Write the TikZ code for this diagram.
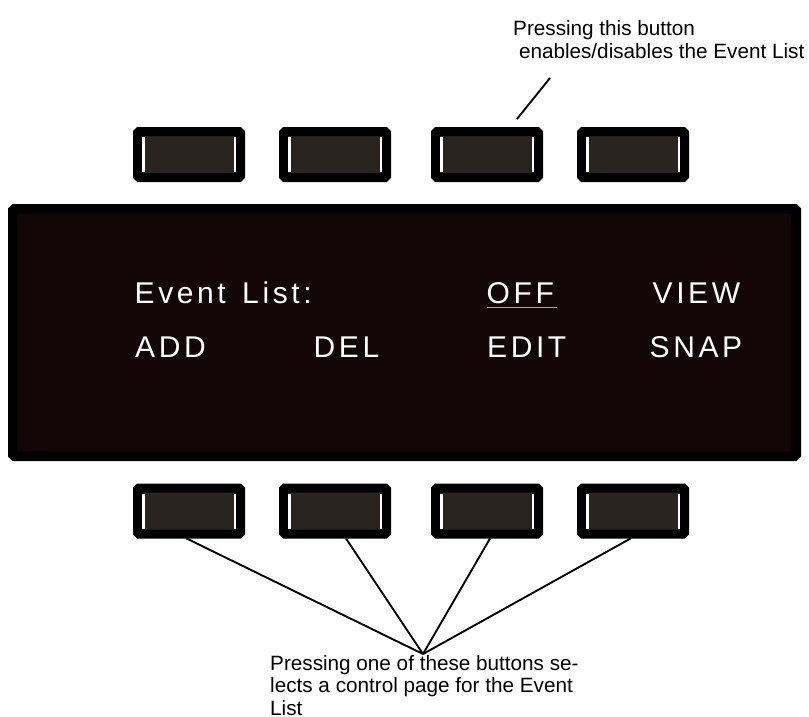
\documentclass[tikz,border=0pt]{standalone}
\usepackage{fontspec}
\setmainfont{Liberation Sans}
\newfontfamily\lcdfont[LetterSpace=12]{Liberation Sans}
\usetikzlibrary{calc}
\definecolor{lcdbg}{RGB}{19,6,6}
\definecolor{btnbg}{RGB}{42,36,32}
\definecolor{ulgray}{RGB}{168,168,168}
\begin{document}
\begin{tikzpicture}[x=1pt,y=-1pt,
  btn/.style={draw=black, fill=btnbg, line width=9pt, rounded corners=1.5pt,
    minimum width=103pt, minimum height=46pt, inner sep=0pt},
  bar/.style={draw=white, line width=2.5pt},
  lcd/.style={draw=black, fill=lcdbg, line width=9.5pt, rounded corners=1.5pt,
    minimum width=783.5pt, minimum height=247.5pt, inner sep=0pt},
  lcdtxt/.style={text=white, font=\lcdfont\fontsize{30}{34}\selectfont,
    inner sep=0pt, anchor=base west},
  note/.style={font=\fontsize{20.7}{22.5}\selectfont, align=left,
    inner sep=0pt, anchor=north west},
  leader/.style={draw=black, line width=1.9pt}]
\useasboundingbox (0,0) rectangle (809,717);

% display
\node[lcd] (lcd) at (404.5,332.5) {};

% buttons
\foreach \n/\x in {1/189,2/335,3/487,4/633}{
  \node[btn] (t\n) at (\x,154.5) {};
  \node[btn] (b\n) at (\x,511) {};
  \foreach \k in {t\n,b\n}{
    \draw[bar] ([xshift=10.5pt,yshift=-10pt]\k.north west) -- ([xshift=10.5pt,yshift=10pt]\k.south west);
    \draw[bar] ([xshift=-10pt,yshift=-10pt]\k.north east) -- ([xshift=-10pt,yshift=10pt]\k.south east);
  }
}

% display texts
\node[lcdtxt] (evl) at (134.5,303.3) {Event\hspace{4.5pt} List:};
\node[lcdtxt] (off) at (486.5,303.3) {OFF};
\node[lcdtxt] (view) at (652.5,303.3) {VIEW};
\node[lcdtxt] (add) at (135,357.7) {ADD};
\node[lcdtxt] (del) at (313.5,357.7) {DEL};
\node[lcdtxt] (edit) at (487,357.5) {EDIT};
\node[lcdtxt] (snap) at (649.5,357.5) {SNAP};
\draw[ulgray, line width=1.5pt] ([xshift=0.5pt,yshift=-4pt]off.base west) -- ++(70,0);

% notes
\node[note] (toptxt) at (513,20.7) {Pressing this button\\\hspace*{0.28em}enables/disables the Event List};
\node[note] (bottxt) at (270,655) {Pressing one of these buttons se-\\lects a control page for the Event\\List};

% leaders
\coordinate (ltop) at (550,78);
\draw[leader] ([xshift=30pt,yshift=8pt]t3.north) -- (ltop);
\coordinate (conv) at (423,654);
\draw[leader] ([xshift=-2.4pt]b1.south) -- (conv);
\draw[leader] ([xshift=11pt]b2.south) -- (conv);
\draw[leader] ([xshift=3pt]b3.south) -- (conv);
\draw[leader] ([xshift=-2.5pt]b4.south) -- (conv);
\end{tikzpicture}
\end{document}
